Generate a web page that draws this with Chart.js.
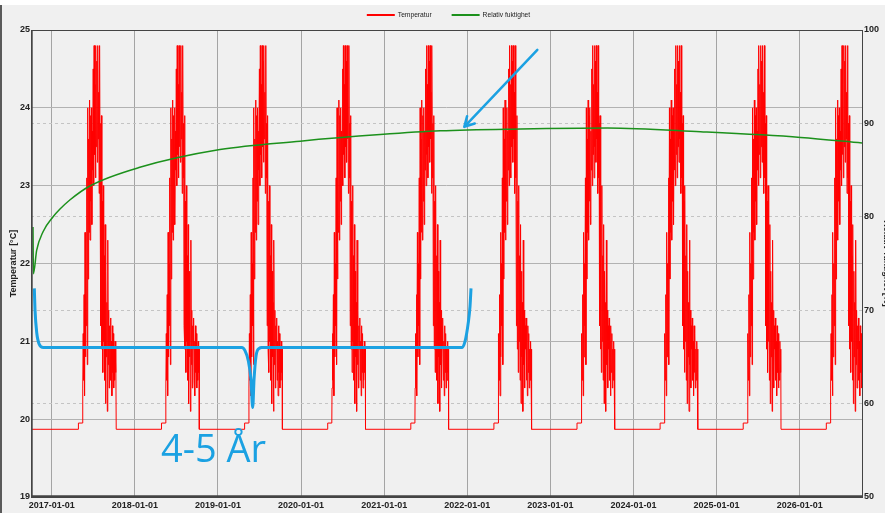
<!DOCTYPE html>
<html>
<head>
<meta charset="utf-8">
<script src="https://cdn.jsdelivr.net/npm/chart.js@4.4.0/dist/chart.umd.min.js"></script>
<style>
  html, body { margin: 0; padding: 0; background: #fff; overflow: hidden; }
  #wrap { position: relative; width: 885px; height: 513px; overflow: hidden; }
  #panel { position: absolute; left: 0; top: 5px; width: 885px; height: 508px; background: #f0f0f0; border-left: 2px solid #5a5a5a; box-sizing: border-box; }
  #holder { position: absolute; left: 0; top: 0; width: 893px; height: 513px; }
</style>
</head>
<body>
<div id="wrap">
  <div id="panel"></div>
  <div id="holder"><canvas id="chart"></canvas></div>
</div>
<script>
// x-axis: decimal years, ticks at every new year
const years = [2017, 2018, 2019, 2020, 2021, 2022, 2023, 2024, 2025, 2026];
const xStart = 2016.75;
const xEnd = 2026.75;

// Temperatur [°C] - the same yearly profile repeats every year
const baseTemp = 19.87;
const preHeatTemp = 19.95;
const preHeatDay = 117;
const preHeatEndDay = 135;
const summerStartDay = 136;
const summerStepDays = 2;
const summerEndDay = 283;
const summerTemps = [
  20.4, 21.1, 20.5, 21.6, 20.3, 22.4, 20.8, 22.0, 21.2, 23.1,
  20.7, 24.0, 21.8, 23.6, 22.4, 24.1, 22.3, 23.9, 22.8, 24.0,
  22.5, 23.7, 23.2, 24.5, 23.0, 24.8, 23.4, 24.3, 23.1, 24.8,
  23.5, 24.6, 23.3, 24.8, 23.6, 24.2, 22.9, 24.8, 23.1, 23.8,
  21.2, 23.9, 20.9, 22.8, 20.6, 23.0, 21.0, 22.1, 20.5, 22.5,
  20.2, 21.9, 20.8, 21.5, 20.1, 22.3, 20.7, 21.4, 20.4, 21.2,
  20.9, 21.3, 20.5, 21.0, 20.3, 21.2, 20.6, 21.1, 20.4, 20.9,
  20.5, 21.0, 20.6, 20.9
];
const leadX = [2016.75, 2016.753];
const leadTemps = [21.0, baseTemp];

// Relativ fuktighet [%]
const humX = [2016.774, 2016.779, 2016.818, 2016.895, 2017.016, 2017.096, 2017.217, 2017.458,
  2018.06, 2019.024, 2019.988, 2020.952, 2021.675, 2022.639, 2023.687, 2024.807, 2026.012, 2026.75];
const humValues = [78.9, 73.9, 76.4, 78.4, 80.0, 80.8, 81.8, 83.3,
  85.3, 87.2, 88.1, 88.8, 89.2, 89.4, 89.5, 89.1, 88.5, 87.9];

// hand-drawn blue bracket (in temperature units)
const bracketX = [2016.790, 2016.798, 2016.819, 2016.850, 2016.898, 2019.286, 2019.325, 2019.365,
  2019.397, 2019.418, 2019.434, 2019.458, 2019.497, 2019.526, 2021.933, 2021.973, 2022.012, 2022.033, 2022.045];
const bracketY = [21.68, 21.41, 21.11, 20.96, 20.92, 20.92, 20.88, 20.75,
  20.51, 20.15, 20.51, 20.81, 20.91, 20.92, 20.92, 21.0, 21.24, 21.45, 21.68];

const annotationText = '4-5 År';

// build the temperature series from the yearly profile
const tempPoints = leadX.map((x, i) => ({ x, y: leadTemps[i] }));
years.forEach(yr => {
  tempPoints.push({ x: yr + preHeatDay / 365, y: baseTemp });
  tempPoints.push({ x: yr + preHeatDay / 365, y: preHeatTemp });
  tempPoints.push({ x: yr + preHeatEndDay / 365, y: preHeatTemp });
  summerTemps.forEach((t, i) => {
    tempPoints.push({ x: yr + (summerStartDay + i * summerStepDays) / 365, y: t });
  });
  tempPoints.push({ x: yr + summerEndDay / 365, y: baseTemp });
});

const humPoints = humX.map((x, i) => ({ x, y: humValues[i] }));
const bracketPoints = bracketX.map((x, i) => ({ x, y: bracketY[i] }));

const BLUE = '#1ba1e2';
const labelFont = { family: 'Liberation Sans', size: 9, weight: 'bold' };

const extras = {
  id: 'extras',
  afterDatasetsDraw(chart) {
    const { ctx, scales: { x, y } } = chart;
    // arrow
    const x0 = x.getPixelForValue(2022.843), y0 = y.getPixelForValue(24.744);
    const x1 = x.getPixelForValue(2021.964), y1 = y.getPixelForValue(23.756);
    const ang = Math.atan2(y1 - y0, x1 - x0);
    ctx.save();
    ctx.strokeStyle = BLUE;
    ctx.lineWidth = 2.5;
    ctx.lineCap = 'round';
    ctx.beginPath();
    ctx.moveTo(x0, y0);
    ctx.lineTo(x1, y1);
    [-0.5, 0.5].forEach(d => {
      ctx.moveTo(x1, y1);
      ctx.lineTo(x1 - 11 * Math.cos(ang + d), y1 - 11 * Math.sin(ang + d));
    });
    ctx.stroke();
    // text
    ctx.fillStyle = BLUE;
    ctx.font = '38px "Open Sans"';
    ctx.textAlign = 'left';
    ctx.textBaseline = 'alphabetic';
    ctx.fillText(annotationText, x.getPixelForValue(2018.314), y.getPixelForValue(19.449));
    ctx.restore();
  },
  afterDraw(chart) {
    const { ctx, chartArea: a } = chart;
    ctx.save();
    // frame
    ctx.strokeStyle = '#444';
    ctx.lineWidth = 1;
    ctx.strokeRect(a.left + 0.5, a.top + 0.5, a.right - a.left, a.bottom - a.top);
    ctx.lineWidth = 1.7;
    ctx.beginPath();
    ctx.moveTo(a.left + 0.85, a.top);
    ctx.lineTo(a.left + 0.85, a.bottom);
    ctx.moveTo(a.left, a.bottom - 0.85);
    ctx.lineTo(a.right + 1, a.bottom - 0.85);
    ctx.stroke();
    // legend
    const items = chart.data.datasets.filter(d => d.label);
    ctx.font = '6.7px "Liberation Sans"';
    const lineW = 28, gapText = 3, gapItem = 20;
    const widths = items.map(d => lineW + gapText + ctx.measureText(d.label).width);
    const total = widths.reduce((s, w) => s + w, 0) + gapItem * (items.length - 1);
    let lx = (a.left + a.right) / 2 + 2 - total / 2;
    const ly = 15;
    items.forEach((d, i) => {
      ctx.strokeStyle = d.borderColor;
      ctx.lineWidth = 2;
      ctx.beginPath();
      ctx.moveTo(lx, ly);
      ctx.lineTo(lx + lineW, ly);
      ctx.stroke();
      ctx.fillStyle = '#222';
      ctx.textBaseline = 'middle';
      ctx.fillText(d.label, lx + lineW + gapText, ly);
      lx += widths[i] + gapItem;
    });
    ctx.restore();
  }
};

new Chart(document.getElementById('chart'), {
  type: 'line',
  data: {
    datasets: [
      {
        label: 'Temperatur',
        data: tempPoints,
        yAxisID: 'y',
        borderColor: '#ff0000',
        borderWidth: 1,
        pointRadius: 0,
        tension: 0,
        order: 3
      },
      {
        label: 'Relativ fuktighet',
        data: humPoints,
        yAxisID: 'y1',
        borderColor: '#1c911c',
        borderWidth: 1.5,
        pointRadius: 0,
        cubicInterpolationMode: 'monotone',
        order: 2
      },
      {
        data: bracketPoints,
        yAxisID: 'y',
        borderColor: BLUE,
        borderWidth: 3,
        pointRadius: 0,
        cubicInterpolationMode: 'monotone',
        order: 1
      }
    ]
  },
  options: {
    responsive: true,
    maintainAspectRatio: false,
    animation: false,
    layout: { padding: { top: 30, left: 0, right: 0, bottom: 0 } },
    plugins: {
      legend: { display: false },
      tooltip: { enabled: false }
    },
    scales: {
      x: {
        type: 'linear',
        min: xStart,
        max: xEnd,
        afterBuildTicks: axis => { axis.ticks = years.map(v => ({ value: v })); },
        afterFit: axis => { axis.height = 16; },
        grid: { color: '#a4a4a4', lineWidth: 1, drawTicks: false },
        border: { display: false },
        ticks: {
          font: labelFont,
          color: '#222',
          padding: 3,
          maxRotation: 0,
          autoSkip: false,
          callback: v => `${Math.round(v)}-01-01`
        }
      },
      y: {
        position: 'left',
        min: 19,
        max: 25,
        afterFit: axis => { axis.width = 31; },
        grid: { color: '#b2b2b2', lineWidth: 1, drawTicks: false },
        border: { display: false },
        ticks: { stepSize: 1, font: labelFont, color: '#222', padding: 1 },
        title: {
          display: true,
          text: 'Temperatur [°C]',
          font: labelFont,
          color: '#222',
          padding: { top: 8, bottom: 0 }
        }
      },
      y1: {
        position: 'right',
        min: 50,
        max: 100,
        afterFit: axis => { axis.width = 31; },
        grid: { color: '#c4c4c4', lineWidth: 1, drawTicks: false, borderDash: [3, 3] },
        border: { display: false, dash: [3, 3] },
        ticks: { stepSize: 10, font: labelFont, color: '#222', padding: 2 },
        title: {
          display: true,
          text: 'Relativ fuktighet [%]',
          font: labelFont,
          color: '#222',
          padding: { top: 1, bottom: 0 }
        }
      }
    }
  },
  plugins: [extras]
});
</script>
</body>
</html>
